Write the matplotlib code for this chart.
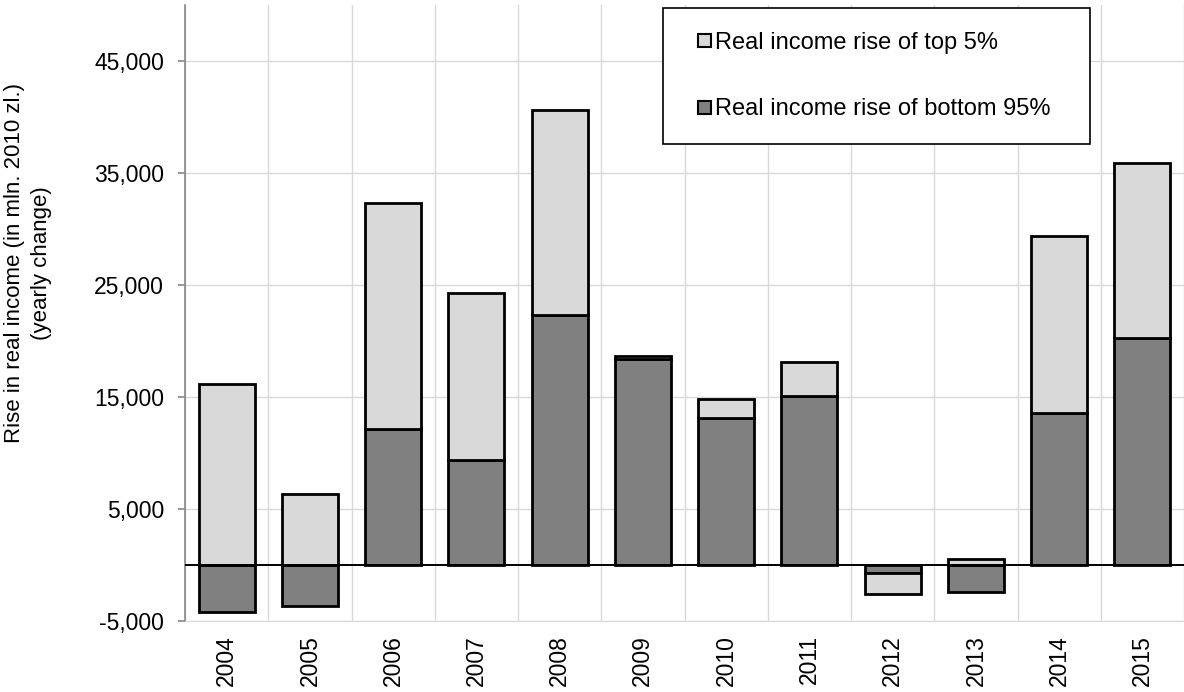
import matplotlib.pyplot as plt
import numpy as np
from matplotlib.ticker import FuncFormatter
from matplotlib.patches import Rectangle, Patch
from matplotlib.legend_handler import HandlerPatch

plt.rcParams['font.family'] = ['Liberation Sans', 'DejaVu Sans']

# data
years = ['2004', '2005', '2006', '2007', '2008', '2009',
         '2010', '2011', '2012', '2013', '2014', '2015']
bottom95 = [-4170, -3630, 12140, 9380, 22320, 18370,
            13100, 15120, -740, -2440, 13600, 20240]
top5 = [16160, 6370, 20210, 14880, 18300, 320,
        1750, 3030, -1820, 535, 15780, 15680]

fig = plt.figure(figsize=(11.84, 6.92), dpi=100)
ax = fig.add_axes([185 / 1184, 1 - 621 / 692, 1 - 185 / 1184, (621 - 5) / 692])

x = np.arange(len(years))
pos = np.zeros(len(years))
neg = np.zeros(len(years))

series = [(bottom95, '#808080', 'Real income rise of bottom 95%'),
          (top5, '#d9d9d9', 'Real income rise of top 5%')]

# stacked like Excel: positives and negatives pile up separately
for vals, color, label in series:
    vals = np.array(vals, dtype=float)
    base = np.where(vals >= 0, pos, neg)
    ax.bar(x, vals, bottom=base, width=0.67, color=color, edgecolor='black',
           linewidth=2, zorder=3)
    pos = pos + np.where(vals >= 0, vals, 0)
    neg = neg + np.where(vals < 0, vals, 0)

ax.axhline(0, color='black', linewidth=1.4, zorder=4)

ax.set_xlim(-0.5, len(years) - 0.5)
ax.set_ylim(-5000, 50000)
ax.set_yticks(np.arange(-5000, 50000, 10000))
ax.yaxis.set_major_formatter(FuncFormatter(lambda v, p: f'{int(v):,}'))
ax.set_xticks(x)
ax.set_xticklabels(years, rotation=90)
ax.set_xticks(np.arange(-0.5, len(years), 1), minor=True)

ax.grid(axis='y', which='major', color='#d9d9d9', linewidth=1, zorder=0)
ax.grid(axis='x', which='minor', color='#d9d9d9', linewidth=1, zorder=0)
ax.tick_params(axis='x', which='both', length=0, labelsize=16.5, pad=10)
ax.tick_params(axis='y', length=5, color='#868686', width=1.2, labelsize=16.5, pad=10)

for s in ['top', 'right']:
    ax.spines[s].set_visible(False)
ax.spines['left'].set_color('#868686')
ax.spines['left'].set_linewidth(1.2)
ax.spines['bottom'].set_color('#d9d9d9')

# y title sits a bit above the middle of the axis, as in the original
fig.text(28 / 1184, 1 - 263 / 692, 'Rise in real income (in mln. 2010 zl.)\n(yearly change)',
         rotation=90, ha='center', va='center', fontsize=16, linespacing=1.4)


# small square legend keys sitting right next to the text
def square_key(legend, orig_handle, xdescent, ydescent, width, height, fontsize):
    s = 9.5
    return Rectangle((width - s - xdescent, -ydescent + (height - s) / 2), s, s)


handles = [Patch(facecolor=c, edgecolor='black', linewidth=1.5) for _, c, _ in series]
labels = [lab for _, _, lab in series]
leg = fig.legend(handles[::-1], labels[::-1], loc='upper left',
                 bbox_to_anchor=(663 / 1184, 1 - 146 / 692, 427 / 1184, 138 / 692),
                 mode='expand', fontsize=17, handlelength=1.05, handleheight=0.7,
                 handletextpad=0.15, labelspacing=1.9, borderpad=1.0,
                 borderaxespad=0, fancybox=False, edgecolor='black', framealpha=1,
                 handler_map={Patch: HandlerPatch(patch_func=square_key)})
leg.get_frame().set_linewidth(1.2)

fig.savefig('out.png', dpi=100)
